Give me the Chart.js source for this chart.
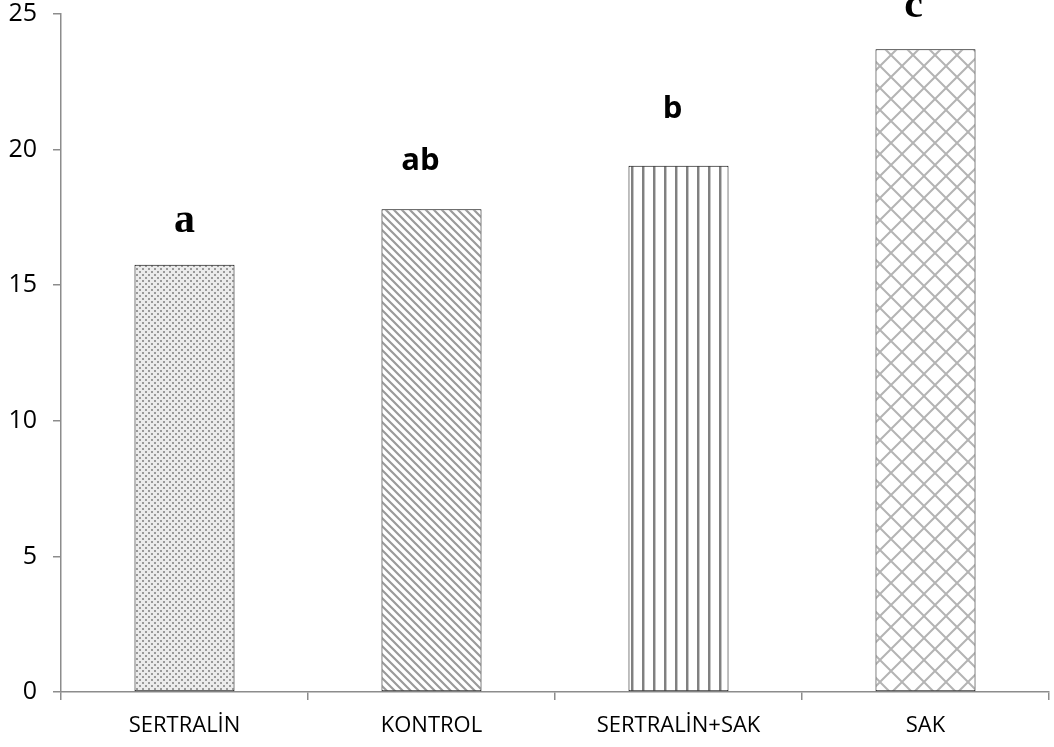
<!DOCTYPE html>
<html>
<head>
<meta charset="utf-8">
<script src="https://cdn.jsdelivr.net/npm/chart.js@4/dist/chart.umd.min.js"></script>
<style>
html,body{margin:0;padding:0;background:#fff;}
#wrap{width:1054px;height:747px;position:relative;}
</style>
</head>
<body>
<div id="wrap"><canvas id="c" width="1054" height="747"></canvas></div>
<script>
const categories = ['SERTRALİN', 'KONTROL', 'SERTRALİN+SAK', 'SAK'];
const values = [15.75, 17.8, 19.4, 23.7];
const letters = ['a', 'ab', 'b', 'c'];
const yTicks = [0, 5, 10, 15, 20, 25];

// label style (font, pixel offsets relative to bar top)
const letterStyle = [
  {font: 'bold 42px "Liberation Serif"', dx: 0, dy: 33},
  {font: 'bold 31px "Open Sans"', dx: -11, dy: 39},
  {font: 'bold 31px "Open Sans"', dx: -6, dy: 48},
  {font: 'bold 42px "Liberation Serif"', dx: -12, dy: 32}
];

function makePattern(kind) {
  const c = document.createElement('canvas');
  const ctx = c.getContext('2d');
  if (kind === 'dots') {
    c.width = 6; c.height = 6;
    ctx.fillStyle = '#ebebeb'; ctx.fillRect(0,0,6,6);
    ctx.fillStyle = '#999999';
    ctx.fillRect(1,1,2,2); ctx.fillRect(4,4,2,2);
  } else if (kind === 'diag') {
    c.width = 8; c.height = 8;
    ctx.fillStyle = '#fff'; ctx.fillRect(0,0,8,8);
    ctx.strokeStyle = '#9a9a9a'; ctx.lineWidth = 2.2;
    ctx.beginPath();
    ctx.moveTo(-2,-2); ctx.lineTo(10,10);
    ctx.moveTo(-6,2); ctx.lineTo(2,10);
    ctx.moveTo(6,-2); ctx.lineTo(14,6);
    ctx.stroke();
  } else if (kind === 'vert') {
    c.width = 11; c.height = 4;
    ctx.fillStyle = '#fff'; ctx.fillRect(0,0,11,4);
    ctx.fillStyle = '#808080'; ctx.fillRect(4,0,2,4);
    ctx.fillStyle = '#c4c4c4'; ctx.fillRect(6,0,1,4);
  } else if (kind === 'cross') {
    c.width = 22; c.height = 22;
    ctx.fillStyle = '#fff'; ctx.fillRect(0,0,22,22);
    ctx.strokeStyle = '#b4b4b4'; ctx.lineWidth = 2;
    ctx.beginPath();
    ctx.moveTo(0,0); ctx.lineTo(22,22);
    ctx.moveTo(22,0); ctx.lineTo(0,22);
    ctx.stroke();
  }
  return document.getElementById('c').getContext('2d').createPattern(c, 'repeat');
}

const patterns = [makePattern('dots'), makePattern('diag'), makePattern('vert'), makePattern('cross')];

const letterPlugin = {
  id: 'letters',
  afterDatasetsDraw(chart) {
    const ctx = chart.ctx;
    const meta = chart.getDatasetMeta(0);
    ctx.save();
    ctx.fillStyle = '#000';
    ctx.textAlign = 'center';
    ctx.textBaseline = 'alphabetic';
    meta.data.forEach((bar, i) => {
      const s = letterStyle[i];
      ctx.font = s.font;
      ctx.fillText(letters[i], bar.x + s.dx, bar.y - s.dy);
    });
    ctx.restore();
  }
};

Chart.defaults.font.family = '"Open Sans"';

new Chart(document.getElementById('c'), {
  type: 'bar',
  data: {
    labels: categories,
    datasets: [{
      data: values,
      backgroundColor: patterns,
      borderColor: '#000',
      borderWidth: 1,
      borderSkipped: false,
      categoryPercentage: 1,
      barPercentage: 0.405
    }]
  },
  options: {
    responsive: false,
    animation: false,
    layout: {padding: {top: 14, right: 5, left: 0, bottom: 0}},
    plugins: {legend: {display: false}, tooltip: {enabled: false}},
    scales: {
      x: {
        grid: {drawOnChartArea: false, drawTicks: true, tickLength: 8, color: '#8c8c8c', lineWidth: 1.5, offset: true},
        border: {display: true, color: '#8c8c8c', width: 1.5},
        ticks: {color: '#000', font: {size: 22}, padding: 13, maxRotation: 0, autoSkip: false},
        afterFit(scale) { scale.height = 55; scale.paddingLeft = 0; scale.paddingRight = 0; }
      },
      y: {
        min: 0, max: 25,
        afterBuildTicks(scale) { scale.ticks = yTicks.map(v => ({value: v})); },
        grid: {drawOnChartArea: false, drawTicks: true, tickLength: 8, color: '#8c8c8c', lineWidth: 1.5},
        border: {display: true, color: '#8c8c8c', width: 1.5},
        ticks: {color: '#000', font: {size: 25}, padding: 16},
        afterFit(scale) { scale.width = 61; scale.paddingTop = 0; scale.paddingBottom = 0; }
      }
    }
  },
  plugins: [letterPlugin]
});
</script>
</body>
</html>
